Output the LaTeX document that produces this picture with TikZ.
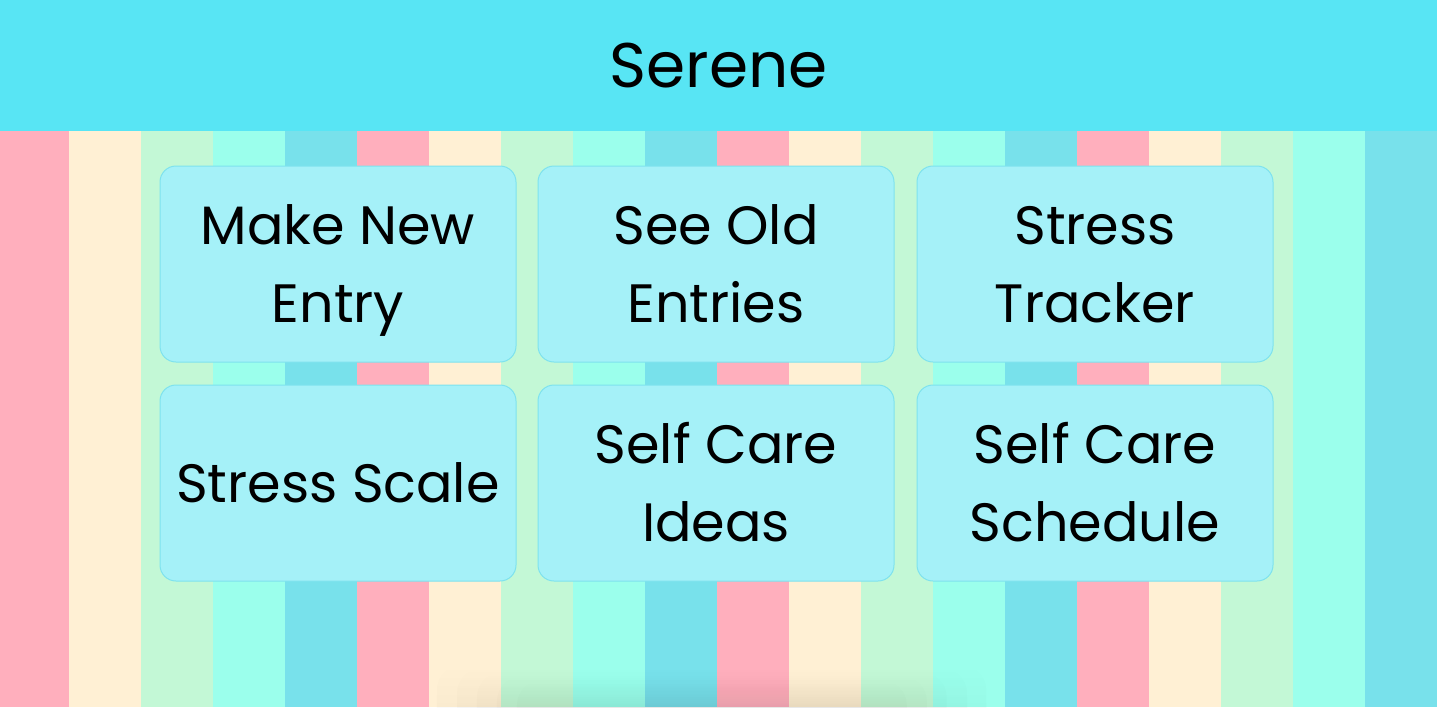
\documentclass[tikz,border=0pt]{standalone}
\usepackage{fontspec}
\setmainfont{Poppins}
\usetikzlibrary{fadings}
\definecolor{s0}{HTML}{FFAFBD}
\definecolor{s1}{HTML}{FFF0D4}
\definecolor{s2}{HTML}{C3F8D6}
\definecolor{s3}{HTML}{9BFFEC}
\definecolor{s4}{HTML}{78E1EB}
\definecolor{hdr}{HTML}{58E5F4}
\definecolor{boxc}{HTML}{A5F1F8}
\definecolor{bord}{HTML}{7EE2EE}
\newcommand\topst{\rule{0pt}{54pt}}
\newcommand\botst{\rule[-16pt]{0pt}{16pt}}
\tikzfading[name=shfade, top color=transparent!100, bottom color=transparent!0]
\tikzset{
  card/.style={draw=bord, fill=boxc, line width=1pt, rounded corners=16pt,
    minimum width=356pt, minimum height=196pt, inner sep=0pt, align=center,
    font=\fontsize{54}{78}\selectfont, text=black},
  titletext/.style={font=\fontsize{63}{70}\selectfont, text=black, inner sep=0pt}
}
\begin{document}
\begin{tikzpicture}[x=1pt,y=-1pt]
\useasboundingbox (0,0) rectangle (1437,707);
\foreach \i in {0,...,19}{
  \pgfmathtruncatemacro\k{mod(\i,5)}
  \fill[s\k] ({\i*72-3},120) rectangle ({(\i+1)*72-3+0.6},707);
}
% soft shadow at bottom
\foreach \w/\t in {275/665,255/668,235/672,215/676,195/680}{
  \fill[black, opacity=0.035, path fading=shfade, rounded corners=25pt] ({712-\w},\t) rectangle ({712+\w},740);
}
\fill[hdr] (0,0) rectangle (1437,131);
\node[titletext] (title) at (718.5,66) {Serene};
\node[card] (b1) at (338,264) {\topst Make New\\Entry\botst};
\node[card] (b2) at (716,264) {\topst See Old\\Entries\botst};
\node[card] (b3) at (1095,264) {\topst Stress\\Tracker\botst};
\node[card] (b4) at (338,483) {\topst Stress Scale\botst};
\node[card] (b5) at (716,483) {\topst Self Care\\Ideas\botst};
\node[card] (b6) at (1095,483) {\topst Self Care\\Schedule\botst};
\end{tikzpicture}
\end{document}
